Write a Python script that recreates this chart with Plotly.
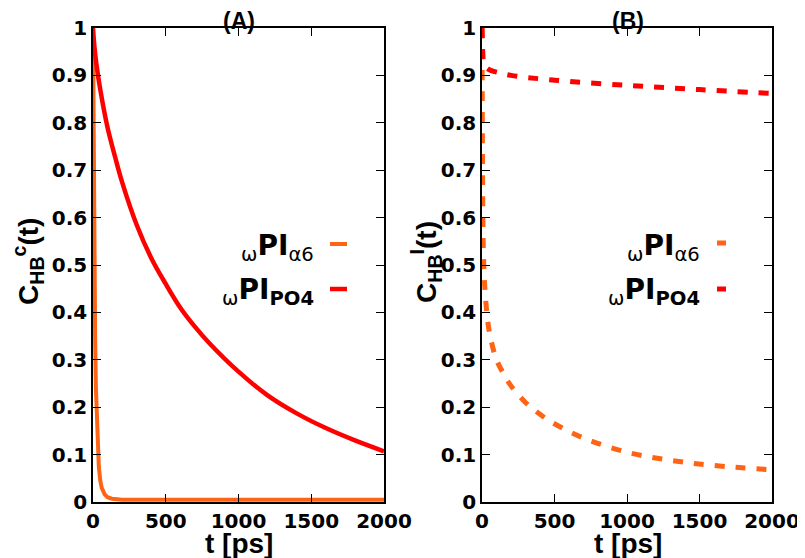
import plotly.graph_objects as go

# ---------------- data ----------------
x_ticks = [0, 500, 1000, 1500, 2000]
y_ticks = [0, 0.1, 0.2, 0.3, 0.4, 0.5, 0.6, 0.7, 0.8, 0.9, 1.0]
y_tick_labels = ["0", "0.1", "0.2", "0.3", "0.4", "0.5", "0.6", "0.7", "0.8", "0.9", "1"]

# Panel A : continuous correlation function
t_a_alpha6 = [0, 3, 6, 10, 15, 20, 30, 40, 50, 60, 80, 100, 130, 160, 200, 300, 500, 1000, 1500, 2000]
c_a_alpha6 = [1.0, 0.8, 0.64, 0.48, 0.34, 0.24, 0.13, 0.075, 0.045, 0.03, 0.016, 0.01, 0.007, 0.006, 0.005, 0.005, 0.005, 0.005, 0.005, 0.005]

t_a_po4 = [0, 10, 25, 50, 100, 150, 200, 300, 400, 500, 600, 700, 800, 1000, 1200, 1400, 1600, 1800, 2000]
c_a_po4 = [1.0, 0.96, 0.92, 0.87, 0.79, 0.73, 0.675, 0.585, 0.515, 0.46, 0.41, 0.37, 0.335, 0.275, 0.225, 0.187, 0.156, 0.13, 0.107]

# Panel B : intermittent correlation function
t_b_alpha6 = [0, 3, 6, 10, 20, 40, 60, 100, 150, 200, 300, 400, 500, 700, 1000, 1300, 1600, 2000]
c_b_alpha6 = [1.0, 0.75, 0.6, 0.52, 0.45, 0.38, 0.345, 0.30, 0.27, 0.245, 0.21, 0.185, 0.165, 0.135, 0.105, 0.088, 0.077, 0.068]

t_b_po4 = [0, 5, 10, 20, 50, 100, 200, 500, 1000, 1500, 2000]
c_b_po4 = [1.0, 0.95, 0.93, 0.92, 0.912, 0.907, 0.90, 0.89, 0.879, 0.87, 0.862]

ORANGE = "#ff6414"
RED = "#ff0000"
FONT = "Liberation Sans"
TICKFONT = "DejaVu Sans"

W, H = 805, 558
OFF = 8  # page body margin


def px(x):
    return (x - OFF) / W


def py(y):
    return 1 - (y - OFF) / H


fig = go.Figure()

# Panel A
fig.add_trace(go.Scatter(x=t_a_alpha6, y=c_a_alpha6, mode="lines",
                         line=dict(color=ORANGE, width=4), xaxis="x", yaxis="y",
                         showlegend=False))
fig.add_trace(go.Scatter(x=t_a_po4, y=c_a_po4, mode="lines",
                         line=dict(color=RED, width=4.5, shape="spline"), xaxis="x", yaxis="y",
                         showlegend=False))
# Panel B
fig.add_trace(go.Scatter(x=t_b_alpha6, y=c_b_alpha6, mode="lines",
                         line=dict(color=ORANGE, width=5, dash="10px,11px", shape="spline"),
                         xaxis="x2", yaxis="y2", showlegend=False))
fig.add_trace(go.Scatter(x=t_b_po4, y=c_b_po4, mode="lines",
                         line=dict(color=RED, width=5, dash="10px,11px", shape="spline"),
                         xaxis="x2", yaxis="y2", showlegend=False))

axis_common = dict(
    showline=True, linecolor="black", linewidth=1.5, mirror="ticks",
    ticks="inside", ticklen=8, tickwidth=1, tickcolor="black",
    showgrid=False, zeroline=False, automargin=False,
    tickfont=dict(family=TICKFONT, size=20, color="black", weight="bold"),
)

xdomA = [px(93), px(384)]
xdomB = [px(482), px(772)]
ydom = [py(502), py(28)]

fig.update_layout(
    template="none",
    width=W, height=H,
    margin=dict(l=0, r=0, t=0, b=0, pad=0, autoexpand=False),
    paper_bgcolor="white", plot_bgcolor="white",
    showlegend=False,
    xaxis=dict(domain=xdomA, range=[0, 2000], tickvals=x_ticks, anchor="y", **axis_common),
    yaxis=dict(domain=ydom, range=[0, 1], tickvals=y_ticks, ticktext=y_tick_labels, anchor="x", **axis_common),
    xaxis2=dict(domain=xdomB, range=[0, 2000], tickvals=x_ticks, anchor="y2", **axis_common),
    yaxis2=dict(domain=ydom, range=[0, 1], tickvals=y_ticks, ticktext=y_tick_labels, anchor="x2", **axis_common),
)

annots = []
title_font = dict(family=FONT, size=23, color="black")
label_font = dict(family=FONT, size=28, color="black")
leg_font = dict(family=TICKFONT, size=28, color="black")


def txt(x, y, text, font, xanchor="center", angle=0):
    return dict(x=px(x), y=py(y), xref="paper", yref="paper", text=text,
                xanchor=xanchor, yanchor="middle", textangle=angle,
                showarrow=False, font=font)


# panel titles
annots.append(txt(239, 21, "<b>(A)</b>", title_font))
annots.append(txt(628, 21, "<b>(B)</b>", title_font))
# x titles
annots.append(txt(239, 543, "<b>t [ps]</b>", label_font))
annots.append(txt(628, 543, "<b>t [ps]</b>", label_font))
# y titles
annots.append(txt(28, 262, "<b>C<sub>HB</sub><sup>c</sup>(t)</b>", label_font, angle=-90))
annots.append(txt(426, 262, "<b>C<sub>HB</sub><sup>I</sup>(t)</b>", label_font, angle=-90))

# legends (text right-aligned, sample on the right)
leg1 = "<sub>ω</sub><b>PI</b><sub>α6</sub>"
leg2 = "<sub>ω</sub><b>PI<sub>PO4</sub></b>"
for xr, yr1, yr2 in [(316, 247, 291), (702, 247, 291)]:
    annots.append(txt(xr, yr1, leg1, leg_font, xanchor="right"))
    annots.append(txt(xr, yr2, leg2, leg_font, xanchor="right"))

fig.update_layout(annotations=annots)

shapes = [
    dict(type="line", xref="paper", yref="paper", x0=px(330), x1=px(347), y0=py(244), y1=py(244),
         line=dict(color=ORANGE, width=4)),
    dict(type="line", xref="paper", yref="paper", x0=px(330), x1=px(347), y0=py(289), y1=py(289),
         line=dict(color=RED, width=4.5)),
    dict(type="line", xref="paper", yref="paper", x0=px(717), x1=px(726), y0=py(243), y1=py(243),
         line=dict(color=ORANGE, width=5)),
    dict(type="line", xref="paper", yref="paper", x0=px(717), x1=px(726), y0=py(289), y1=py(289),
         line=dict(color=RED, width=5)),
]
fig.update_layout(shapes=shapes)

fig.write_html("out.html")
